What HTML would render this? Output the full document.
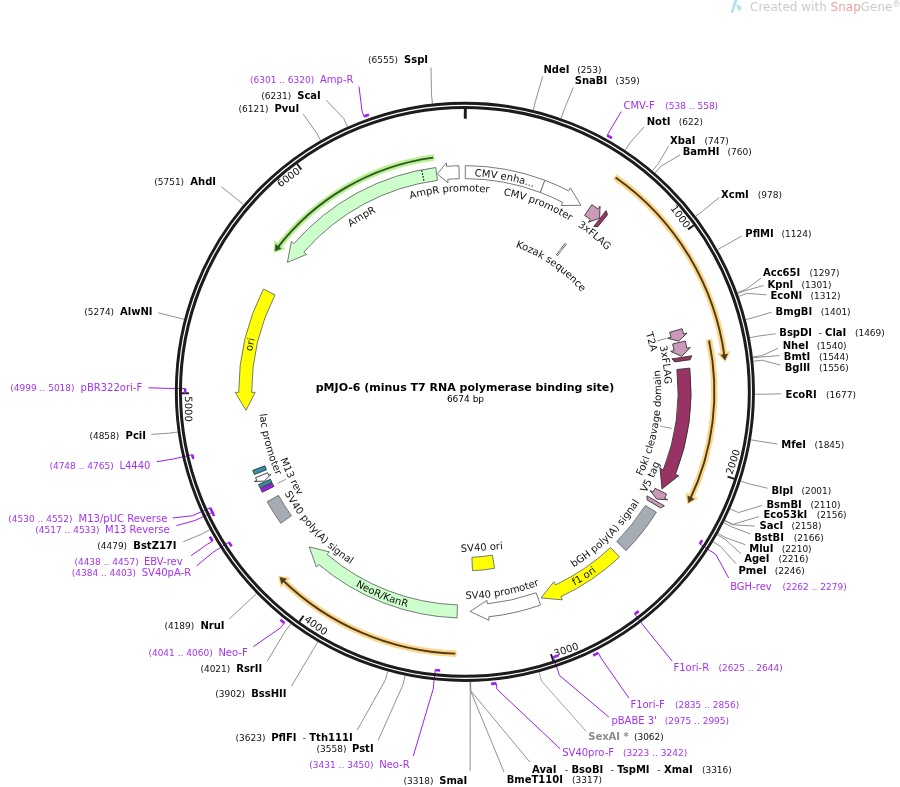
<!DOCTYPE html>
<html><head><meta charset="utf-8"><title>pMJO-6 map</title>
<style>
html,body{margin:0;padding:0;background:#fff;width:900px;height:787px;overflow:hidden}
svg{display:block;will-change:transform}
.n{font-size:10px;font-weight:bold;fill:#000}
.g{font-size:10px;font-weight:bold;fill:#8c8c8c}
.d{font-size:9px;fill:#111}
.p{font-size:10px;fill:#a333f0}
.pd{font-size:9px;fill:#a333f0}
</style></head>
<body>
<svg width="900" height="787" viewBox="0 0 900 787">
<defs><path id="tp1" d="M357.38,204.74 A215.8,215.8 0 0 1 632.67,256.12"/><path id="tp2" d="M399.1,202.35 A200.6,200.6 0 0 1 641.63,296.94"/><path id="tp3" d="M323.43,249.78 A200.5,200.5 0 0 1 582.84,229.71"/><path id="tp4" d="M275.34,326.53 A200.5,200.5 0 0 1 499.46,194.35"/><path id="tp5" d="M273.69,493.61 A216.6,216.6 0 0 1 334.21,219.12"/><path id="tp6" d="M435.41,612.69 A222.8,222.8 0 0 0 678.31,455.85"/><path id="tp7" d="M266.95,494.11 A222.8,222.8 0 0 0 534.61,603.46"/><path id="tp8" d="M361.93,571.43 A207,207 0 0 0 625.96,521.89"/><path id="tp9" d="M258.09,400.71 A207,207 0 0 0 440.98,597.46"/><path id="tp10" d="M480.24,597.78 A206.5,206.5 0 0 0 670.67,409.23"/><path id="tp11" d="M591.08,542.1 A196.2,196.2 0 0 0 633.19,290.99"/><path id="tp12" d="M552.33,580.03 A207.5,207.5 0 0 0 664.53,335.24"/><path id="tp13" d="M572.58,235.31 A190,190 0 0 1 636.49,473.45"/><path id="tp14" d="M598.36,242.89 A200,200 0 0 1 633.07,500.1"/><path id="tp15" d="M462.07,191.37 A200.5,200.5 0 0 1 662.42,357.38"/><path id="tp16" d="M448.6,239.22 A153.5,153.5 0 0 1 613.04,351.64"/><path id="tp17" d="M278.41,303.17 A206.5,206.5 0 0 0 347.87,561.99"/><path id="tp18" d="M274.64,342.71 A196.5,196.5 0 0 0 386.32,571.95"/></defs>
<g font-family="'DejaVu Sans', sans-serif">
<path d="M614.63,176.85 A262,262 0 0 1 724.02,353.08" fill="none" stroke="#ffd589" stroke-width="6.4"/>
<path d="M730.17,351.64 L725.17,361.8 L717.71,353.53 Z" fill="#ffd589" stroke="#ffd589" stroke-width="1" stroke-linejoin="round"/>
<path d="M615.61,177.54 A262,262 0 0 1 724.64,357.53" fill="none" stroke="#4a3b1c" stroke-width="1.9"/>
<path d="M727.6,354.08 L724.96,360.01 L720.87,355.05 Z" fill="#4a3b1c" stroke="#4a3b1c" stroke-width="0.6" stroke-linejoin="round"/>
<path d="M708.79,339.25 A249.5,249.5 0 0 1 691.54,496.17" fill="none" stroke="#ffd589" stroke-width="6.4"/>
<path d="M697.48,498.34 L687.72,504.1 L686.02,493.1 Z" fill="#ffd589" stroke="#ffd589" stroke-width="1" stroke-linejoin="round"/>
<path d="M709.04,340.43 A249.5,249.5 0 0 1 689.62,500.24" fill="none" stroke="#4a3b1c" stroke-width="1.9"/>
<path d="M693.99,498.97 L688.53,502.49 L687.83,496.09 Z" fill="#4a3b1c" stroke="#4a3b1c" stroke-width="0.6" stroke-linejoin="round"/>
<path d="M456.48,653.71 A262,262 0 0 1 285.04,582.36" fill="none" stroke="#ffd589" stroke-width="6.4"/>
<path d="M281.08,587.29 L278.74,576.21 L289.72,578.11 Z" fill="#ffd589" stroke="#ffd589" stroke-width="1" stroke-linejoin="round"/>
<path d="M455.28,653.67 A262,262 0 0 1 281.79,579.24" fill="none" stroke="#4a3b1c" stroke-width="1.9"/>
<path d="M281.6,583.78 L280.01,577.49 L286.3,578.87 Z" fill="#4a3b1c" stroke="#4a3b1c" stroke-width="0.6" stroke-linejoin="round"/>
<path d="M434.36,157.43 A236.4,236.4 0 0 0 279.37,245.35" fill="none" stroke="#b6f28e" stroke-width="6.4"/>
<path d="M274.74,241.04 L274.04,252.35 L284.62,248.87 Z" fill="#b6f28e" stroke="#b6f28e" stroke-width="1" stroke-linejoin="round"/>
<path d="M433.17,157.59 A236.4,236.4 0 0 0 276.61,248.91" fill="none" stroke="#35522a" stroke-width="1.9"/>
<path d="M275.76,244.44 L275.11,250.9 L281.12,248.62 Z" fill="#35522a" stroke="#35522a" stroke-width="0.6" stroke-linejoin="round"/>
<path d="M465.33,165.65 A226.2,226.2 0 0 1 544.9,180.27 L540.31,192.43 A213.2,213.2 0 0 0 465.3,178.65 Z" fill="#ffffff" stroke="#6a6a6a" stroke-width="0.9" stroke-linejoin="miter"/>
<path d="M544.9,180.27 A226.2,226.2 0 0 1 568.7,190.87 L570.31,187.76 L580.93,205.29 L561.13,205.53 L562.73,202.42 A213.2,213.2 0 0 0 540.31,192.43 Z" fill="#ffffff" stroke="#6a6a6a" stroke-width="0.9" stroke-linejoin="miter"/>
<path d="M458.94,165.73 A226.2,226.2 0 0 0 446.68,166.39 L446.4,162.9 L437.26,173.9 L448.01,182.83 L447.73,179.34 A213.2,213.2 0 0 1 459.28,178.72 Z" fill="#ffffff" stroke="#6a6a6a" stroke-width="0.9" stroke-linejoin="miter"/>
<path d="M435.81,167.53 A226.2,226.2 0 0 0 294.02,243.63 L291.38,241.34 L287.41,262.36 L306.49,254.45 L303.84,252.15 A213.2,213.2 0 0 1 437.48,180.42 Z" fill="#ccffcc" stroke="#6a6a6a" stroke-width="0.9" stroke-linejoin="miter"/>
<path d="M421.82,170.3 L424.11,182.08" stroke="#111" stroke-width="1.2" stroke-dasharray="1.6,1.4"/>
<path d="M263.45,288.98 A226.2,226.2 0 0 0 238.7,392.38 L235.2,392.39 L245.98,410.34 L255.2,392.34 L251.7,392.35 A213.2,213.2 0 0 1 275.02,294.89 Z" fill="#ffff00" stroke="#6a6a6a" stroke-width="0.9" stroke-linejoin="miter"/>
<path d="M457.02,617.91 A226.2,226.2 0 0 1 318.69,564.44 L316.42,567.11 L309.29,546.95 L329.35,551.85 L327.09,554.52 A213.2,213.2 0 0 0 457.48,604.92 Z" fill="#ccffcc" stroke="#6a6a6a" stroke-width="0.9" stroke-linejoin="miter"/>
<path d="M540.51,605.04 A226.2,226.2 0 0 1 488.71,616.79 L489.08,620.27 L470.07,611.49 L486.98,600.38 L487.34,603.87 A213.2,213.2 0 0 0 536.16,592.79 Z" fill="#ffffff" stroke="#6a6a6a" stroke-width="0.9" stroke-linejoin="miter"/>
<path d="M619.45,557.02 A226.2,226.2 0 0 1 560.88,596.68 L562.36,599.85 L541.06,597.93 L553.88,581.74 L555.36,584.91 A213.2,213.2 0 0 0 610.57,547.52 Z" fill="#ffff00" stroke="#6a6a6a" stroke-width="0.9" stroke-linejoin="miter"/>
<path d="M656.36,512.31 A226.2,226.2 0 0 1 626.01,550.63 L616.75,541.5 A213.2,213.2 0 0 0 645.36,505.38 Z" fill="#a6acb5" stroke="#6a6a6a" stroke-width="0.9" stroke-linejoin="miter"/>
<path d="M280.79,523.27 A226.2,226.2 0 0 1 267.15,501.68 L278.52,495.36 A213.2,213.2 0 0 0 291.37,515.72 Z" fill="#a6acb5" stroke="#6a6a6a" stroke-width="0.9" stroke-linejoin="miter"/>
<path d="M591.86,204.64 A226.2,226.2 0 0 1 597.98,208.94 L600.04,206.11 L599.59,218.28 L588.27,222.28 L590.33,219.45 A213.2,213.2 0 0 0 584.57,215.4 Z" fill="#cc99bb" stroke="#333" stroke-width="0.9" stroke-linejoin="miter"/>
<path d="M606.07,210.65 L607.57,214.64 L597.78,226.79 L593.77,226.42 Z" fill="#993366" stroke="#333" stroke-width="0.9" stroke-linejoin="miter"/>
<path d="M682.11,328.71 A226.2,226.2 0 0 1 683.58,334.03 L686.97,333.13 L678.66,341.12 L667.63,338.25 L671.02,337.35 A213.2,213.2 0 0 0 669.63,332.34 Z" fill="#cc99bb" stroke="#333" stroke-width="0.9" stroke-linejoin="miter"/>
<path d="M685.33,341.07 A226.2,226.2 0 0 1 686.85,348.18 L690.28,347.51 L681.71,356.33 L670.66,351.37 L674.09,350.69 A213.2,213.2 0 0 0 672.66,343.99 Z" fill="#cc99bb" stroke="#333" stroke-width="0.9" stroke-linejoin="miter"/>
<path d="M691.75,355.78 L690.12,359.72 L674.68,361.93 L672,358.92 Z" fill="#993366" stroke="#333" stroke-width="0.9" stroke-linejoin="miter"/>
<path d="M689.85,368.15 A226.2,226.2 0 0 1 675.48,474.45 L678.74,475.73 L661.96,488.99 L660.12,468.42 L663.38,469.7 A213.2,213.2 0 0 0 676.93,369.51 Z" fill="#993366" stroke="#333" stroke-width="0.9" stroke-linejoin="miter"/>
<path d="M666.64,494.15 A226.2,226.2 0 0 1 664.56,498.17 L667.65,499.81 L656.66,499.06 L649.99,490.41 L653.08,492.06 A213.2,213.2 0 0 0 655.05,488.27 Z" fill="#cc99bb" stroke="#333" stroke-width="0.9" stroke-linejoin="miter"/>
<path d="M664.33,505.82 L660.59,507.88 L647.17,499.92 L646.96,495.9 Z" fill="#cc99bb" stroke="#333" stroke-width="0.9" stroke-linejoin="miter"/>
<path d="M254.35,474.54 A226.2,226.2 0 0 1 252.76,470.36 L264.95,465.85 A213.2,213.2 0 0 0 266.46,469.79 Z" fill="#3191ab" stroke="#333" stroke-width="0.9" stroke-linejoin="miter"/>
<path d="M255.62,477.7 A226.2,226.2 0 0 0 256.78,480.47 L254.48,481.44 L264.16,481.13 L271.04,474.39 L268.74,475.37 A213.2,213.2 0 0 1 267.65,472.77 Z" fill="#ffffff" stroke="#333" stroke-width="0.9" stroke-linejoin="miter"/>
<path d="M260.08,487.84 A226.2,226.2 0 0 1 258.57,484.55 L270.42,479.22 A213.2,213.2 0 0 0 271.85,482.32 Z" fill="#3191ab" stroke="#333" stroke-width="0.9" stroke-linejoin="miter"/>
<path d="M262.2,492.25 A226.2,226.2 0 0 1 260.44,488.61 L272.19,483.05 A213.2,213.2 0 0 0 273.85,486.48 Z" fill="#9b1ff0" stroke="#333" stroke-width="0.9" stroke-linejoin="miter"/>
<path d="M494.59,568.37 A179,179 0 0 1 472.48,570.69 L471.91,557.3 A165.6,165.6 0 0 0 492.37,555.16 Z" fill="#ffff00" stroke="#6a6a6a" stroke-width="0.9" stroke-linejoin="miter"/>
<path d="M465.3,108.65 L465.29,118.85" stroke="#1c1c1c" stroke-width="2.9"/>
<path d="M693.84,225.15 L688.02,229.39" stroke="#1c1c1c" stroke-width="1.9"/>
<text x="685.22" y="228.95" font-size="10" fill="#111" font-weight="normal" text-anchor="end" transform="rotate(53.94 685.22 228.95)">1000</text>
<path d="M734.42,478.81 L727.57,476.59" stroke="#1c1c1c" stroke-width="1.9"/>
<text x="732.28" y="474.96" font-size="10" fill="#111" font-weight="normal" text-anchor="start" transform="rotate(-72.12 732.28 474.96)">2000</text>
<path d="M553.25,660.92 L551,654.08" stroke="#1c1c1c" stroke-width="1.9"/>
<text x="555.1" y="656.92" font-size="10" fill="#111" font-weight="normal" text-anchor="start" transform="rotate(-18.18 555.1 656.92)">3000</text>
<path d="M299.39,621.65 L303.6,615.81" stroke="#1c1c1c" stroke-width="1.9"/>
<text x="303.7" y="620.79" font-size="10" fill="#111" font-weight="normal" text-anchor="start" transform="rotate(35.76 303.7 620.79)">4000</text>
<path d="M181.7,393.32 L188.9,393.28" stroke="#1c1c1c" stroke-width="1.9"/>
<text x="184.94" y="396.3" font-size="10" fill="#111" font-weight="normal" text-anchor="start" transform="rotate(89.7 184.94 396.3)">5000</text>
<path d="M297.02,163.78 L301.29,169.57" stroke="#1c1c1c" stroke-width="1.9"/>
<text x="300.87" y="172.38" font-size="10" fill="#111" font-weight="normal" text-anchor="end" transform="rotate(323.64 300.87 172.38)">6000</text>
<path d="M533.32,110.04 L535.45,101.29 L542.7,76.3" fill="none" stroke="#858585" stroke-width="0.9"/>
<path d="M561.06,118.26 L564.04,109.77 L573.3,87.5" fill="none" stroke="#858585" stroke-width="0.9"/>
<path d="M621.3,111.5 L609.95,130.39 L607.14,135.46" fill="none" stroke="#9b1ff0" stroke-width="1.0"/>
<path d="M607.14,135.46 A293.2,293.2 0 0 1 611.94,138.18" fill="none" stroke="#9b1ff0" stroke-width="2.6"/>
<path d="M625.18,150.17 L630.15,142.67 L644,127" fill="none" stroke="#858585" stroke-width="0.9"/>
<path d="M652.44,170.66 L658.26,163.79 L668.5,146.2" fill="none" stroke="#858585" stroke-width="0.9"/>
<path d="M655.14,172.97 L661.04,166.17 L680,155" fill="none" stroke="#858585" stroke-width="0.9"/>
<path d="M695.75,216.33 L702.92,210.88 L719.2,197.5" fill="none" stroke="#858585" stroke-width="0.9"/>
<path d="M717.62,249.62 L725.47,245.2 L741.8,236" fill="none" stroke="#858585" stroke-width="0.9"/>
<path d="M737.34,292.48 L745.8,289.39 L761.2,278" fill="none" stroke="#858585" stroke-width="0.9"/>
<path d="M737.72,293.51 L746.18,290.45 L763.5,285.5" fill="none" stroke="#858585" stroke-width="0.9"/>
<path d="M738.72,296.34 L747.22,293.37 L766.5,294.8" fill="none" stroke="#858585" stroke-width="0.9"/>
<path d="M745.75,319.59 L754.47,317.34 L771.6,312.2" fill="none" stroke="#858585" stroke-width="0.9"/>
<path d="M749.8,337.7 L758.64,336.02 L775.6,333.8" fill="none" stroke="#858585" stroke-width="0.9"/>
<path d="M752.78,356.85 L761.71,355.77 L778.2,348.2" fill="none" stroke="#858585" stroke-width="0.9"/>
<path d="M752.91,357.94 L761.85,356.88 L779.3,355.6" fill="none" stroke="#858585" stroke-width="0.9"/>
<path d="M753.27,361.19 L762.22,360.24 L780.4,365.1" fill="none" stroke="#858585" stroke-width="0.9"/>
<path d="M754.89,394.17 L763.89,394.24 L781.1,393.8" fill="none" stroke="#858585" stroke-width="0.9"/>
<path d="M750.91,439.82 L759.78,441.3 L777.3,444" fill="none" stroke="#858585" stroke-width="0.9"/>
<path d="M740.81,481.15 L749.37,483.92 L767.5,488.2" fill="none" stroke="#858585" stroke-width="0.9"/>
<path d="M730.21,508.95 L738.44,512.58 L762.2,505.4" fill="none" stroke="#858585" stroke-width="0.9"/>
<path d="M724.89,520.32 L732.96,524.31 L759,516.6" fill="none" stroke="#858585" stroke-width="0.9"/>
<path d="M724.65,520.81 L732.71,524.81 L754.9,526" fill="none" stroke="#858585" stroke-width="0.9"/>
<path d="M723.67,522.76 L731.7,526.83 L750.3,534" fill="none" stroke="#858585" stroke-width="0.9"/>
<path d="M718.03,533.37 L725.88,537.76 L745.3,544.7" fill="none" stroke="#858585" stroke-width="0.9"/>
<path d="M717.22,534.8 L725.05,539.23 L741.2,553.9" fill="none" stroke="#858585" stroke-width="0.9"/>
<path d="M713.08,541.86 L720.79,546.52 L735.9,563.7" fill="none" stroke="#858585" stroke-width="0.9"/>
<path d="M728.6,577.9 L715.86,554.39 L699.74,543.96" fill="none" stroke="#9b1ff0" stroke-width="1.0"/>
<path d="M702.15,540.18 A279.8,279.8 0 0 1 699.74,543.96" fill="none" stroke="#9b1ff0" stroke-width="2.6"/>
<path d="M672.3,661.2 L646.43,629.44 L634.77,614.18" fill="none" stroke="#9b1ff0" stroke-width="1.0"/>
<path d="M638.72,611.11 A279.8,279.8 0 0 1 634.77,614.18" fill="none" stroke="#9b1ff0" stroke-width="2.6"/>
<path d="M629,698.2 L601.01,658.08 L598.37,652.91" fill="none" stroke="#9b1ff0" stroke-width="1.0"/>
<path d="M598.37,652.91 A293.2,293.2 0 0 1 593.18,655.5" fill="none" stroke="#9b1ff0" stroke-width="2.6"/>
<path d="M608.8,717 L559.52,675.49 L553.44,657.27" fill="none" stroke="#9b1ff0" stroke-width="1.0"/>
<path d="M558.42,655.56 A279.8,279.8 0 0 1 553.44,657.27" fill="none" stroke="#9b1ff0" stroke-width="2.6"/>
<path d="M539.14,672.19 L541.45,680.89 L586.2,731.4" fill="none" stroke="#9a9a9a" stroke-width="0.9"/>
<path d="M560.2,748.8 L496.93,689.13 L496.31,683.36" fill="none" stroke="#9b1ff0" stroke-width="1.0"/>
<path d="M496.31,683.36 A293.2,293.2 0 0 1 491.09,683.88" fill="none" stroke="#9b1ff0" stroke-width="2.6"/>
<path d="M470.63,681.79 L470.81,690.79 L529.9,762.1" fill="none" stroke="#858585" stroke-width="0.9"/>
<path d="M470.36,681.8 L470.53,690.8 L504,772" fill="none" stroke="#858585" stroke-width="0.9"/>
<path d="M470.09,681.8 L470.25,690.8 L470.1,770.7" fill="none" stroke="#858585" stroke-width="0.9"/>
<path d="M413.3,756 L433.15,689.16 L435.19,670.07" fill="none" stroke="#9b1ff0" stroke-width="1.0"/>
<path d="M440.17,670.56 A279.8,279.8 0 0 1 435.19,670.07" fill="none" stroke="#9b1ff0" stroke-width="2.6"/>
<path d="M405,675.6 L403.14,684.4 L378.1,740.5" fill="none" stroke="#858585" stroke-width="0.9"/>
<path d="M387.76,671.4 L385.36,680.08 L357.3,729.9" fill="none" stroke="#858585" stroke-width="0.9"/>
<path d="M317.82,641.78 L313.25,649.54 L291.5,686.1" fill="none" stroke="#858585" stroke-width="0.9"/>
<path d="M290.8,623.77 L285.39,630.97 L267.2,661.3" fill="none" stroke="#858585" stroke-width="0.9"/>
<path d="M253.3,646.7 L280.92,627.55 L284.49,622.98" fill="none" stroke="#9b1ff0" stroke-width="1.0"/>
<path d="M284.49,622.98 A293.2,293.2 0 0 1 280.39,619.71" fill="none" stroke="#9b1ff0" stroke-width="2.6"/>
<path d="M256.44,593.46 L249.97,599.71 L229.3,618.9" fill="none" stroke="#858585" stroke-width="0.9"/>
<path d="M196.7,565.8 L212.72,552.5 L228.92,542.18" fill="none" stroke="#9b1ff0" stroke-width="1.0"/>
<path d="M231.64,546.38 A279.8,279.8 0 0 1 228.92,542.18" fill="none" stroke="#9b1ff0" stroke-width="2.6"/>
<path d="M191.1,555.6 L207.57,544.1 L212.56,541.15" fill="none" stroke="#9b1ff0" stroke-width="1.0"/>
<path d="M212.56,541.15 A293.2,293.2 0 0 1 209.93,536.61" fill="none" stroke="#9b1ff0" stroke-width="2.6"/>
<path d="M209.8,529.78 L201.88,534.06 L183.3,541.7" fill="none" stroke="#858585" stroke-width="0.9"/>
<path d="M176.4,525.6 L195,520.51 L212.33,512.25" fill="none" stroke="#9b1ff0" stroke-width="1.0"/>
<path d="M214.17,516.04 A279.8,279.8 0 0 1 212.33,512.25" fill="none" stroke="#9b1ff0" stroke-width="2.6"/>
<path d="M172.8,518 L192.74,515.66 L210.22,507.71" fill="none" stroke="#9b1ff0" stroke-width="1.0"/>
<path d="M212.67,512.96 A279.8,279.8 0 0 1 210.22,507.71" fill="none" stroke="#9b1ff0" stroke-width="2.6"/>
<path d="M156.9,461.7 L173.53,458.97 L192.24,454.66" fill="none" stroke="#9b1ff0" stroke-width="1.0"/>
<path d="M193.28,459.02 A279.8,279.8 0 0 1 192.24,454.66" fill="none" stroke="#9b1ff0" stroke-width="2.6"/>
<path d="M177.69,431.99 L168.78,433.24 L151.4,434.4" fill="none" stroke="#858585" stroke-width="0.9"/>
<path d="M148.6,387.8 L165.92,388.33 L185.12,388.56" fill="none" stroke="#9b1ff0" stroke-width="1.0"/>
<path d="M185.11,393.56 A279.8,279.8 0 0 1 185.12,388.56" fill="none" stroke="#9b1ff0" stroke-width="2.6"/>
<path d="M184.12,319.32 L175.4,317.07 L158.3,312.8" fill="none" stroke="#858585" stroke-width="0.9"/>
<path d="M243.44,204.62 L236.57,198.81 L221.4,186.7" fill="none" stroke="#858585" stroke-width="0.9"/>
<path d="M320.65,140.27 L316.17,132.46 L303.3,114.2" fill="none" stroke="#858585" stroke-width="0.9"/>
<path d="M347.43,126.71 L343.78,118.48 L326.3,100.3" fill="none" stroke="#858585" stroke-width="0.9"/>
<path d="M359,86.6 L362.05,111.1 L364.04,116.54" fill="none" stroke="#9b1ff0" stroke-width="1.0"/>
<path d="M364.04,116.54 A293.2,293.2 0 0 1 368.98,114.78" fill="none" stroke="#9b1ff0" stroke-width="2.6"/>
<path d="M432.48,103.67 L431.47,94.72 L431,67.5" fill="none" stroke="#858585" stroke-width="0.9"/>
<circle cx="464.9" cy="391.85" r="288.6" fill="none" stroke="#1c1c1c" stroke-width="2.9"/>
<circle cx="464.9" cy="391.85" r="284.45" fill="none" stroke="#1c1c1c" stroke-width="3.0"/>
<text font-size="10" fill="#111" font-weight="normal" text-anchor="middle"><textPath href="#tp1" startOffset="50%">CMV enha...</textPath></text>
<text font-size="10" fill="#111" font-weight="normal" text-anchor="middle"><textPath href="#tp2" startOffset="50%">CMV promoter</textPath></text>
<text font-size="10" fill="#111" font-weight="normal" text-anchor="middle"><textPath href="#tp3" startOffset="50%">AmpR promoter</textPath></text>
<text font-size="10" fill="#111" font-weight="normal" text-anchor="middle"><textPath href="#tp4" startOffset="50%">AmpR</textPath></text>
<text font-size="10" fill="#111" font-weight="normal" text-anchor="middle"><textPath href="#tp5" startOffset="50%">ori</textPath></text>
<text font-size="10" fill="#111" font-weight="normal" text-anchor="middle"><textPath href="#tp6" startOffset="50%">f1 ori</textPath></text>
<text font-size="10" fill="#111" font-weight="normal" text-anchor="middle"><textPath href="#tp7" startOffset="50%">NeoR/KanR</textPath></text>
<text font-size="10" fill="#111" font-weight="normal" text-anchor="middle"><textPath href="#tp8" startOffset="50%">SV40 promoter</textPath></text>
<text font-size="10" fill="#111" font-weight="normal" text-anchor="middle"><textPath href="#tp9" startOffset="50%">SV40 poly(A) signal</textPath></text>
<text font-size="10" fill="#111" font-weight="normal" text-anchor="middle"><textPath href="#tp10" startOffset="50%">bGH poly(A) signal</textPath></text>
<text font-size="10" fill="#111" font-weight="normal" text-anchor="middle"><textPath href="#tp11" startOffset="50%">FokI cleavage domain</textPath></text>
<text font-size="10" fill="#111" font-weight="normal" text-anchor="middle"><textPath href="#tp12" startOffset="50%">V5 tag</textPath></text>
<text font-size="10" fill="#111" font-weight="normal" text-anchor="middle"><textPath href="#tp13" startOffset="50%">T2A</textPath></text>
<text font-size="10" fill="#111" font-weight="normal" text-anchor="middle"><textPath href="#tp14" startOffset="50%">3xFLAG</textPath></text>
<text font-size="10" fill="#111" font-weight="normal" text-anchor="middle"><textPath href="#tp15" startOffset="50%">3xFLAG</textPath></text>
<text font-size="10" fill="#111" font-weight="normal" text-anchor="middle"><textPath href="#tp16" startOffset="50%">Kozak sequence</textPath></text>
<text font-size="10" fill="#111" font-weight="normal" text-anchor="middle"><textPath href="#tp17" startOffset="50%">lac promoter</textPath></text>
<text font-size="10" fill="#111" font-weight="normal" text-anchor="middle"><textPath href="#tp18" startOffset="50%">M13 rev</textPath></text>
<text x="461" y="552" font-size="10" fill="#111" font-weight="normal" text-anchor="start" transform="rotate(-4 461 552)">SV40 ori</text>
<path d="M657.1,341 L666.4,338.3" stroke="#8a8a8a" stroke-width="0.9"/>
<path d="M660.2,426.2 L672,428.4" stroke="#8a8a8a" stroke-width="0.9"/>
<path d="M277.3,483.5 L285.9,479.3" stroke="#8a8a8a" stroke-width="0.9"/>
<path d="M556.9,255.2 L566.2,243" stroke="#222" stroke-width="2.4" stroke-dasharray="0.8,0.6"/>
<path d="M556.9,255.2 L566.2,243" stroke="#fff" stroke-width="0.6"/>
<text x="543.5" y="73.1" class="n">NdeI</text>
<text x="577.3" y="73.1" class="d">(253)</text>
<text x="574.7" y="84.3" class="n">SnaBI</text>
<text x="615.5" y="84.3" class="d">(359)</text>
<text x="623.5" y="108.9" class="p">CMV-F</text>
<text x="665.3" y="108.9" class="pd">(538 .. 558)</text>
<text x="646.7" y="125.1" class="n">NotI</text>
<text x="678.7" y="125.1" class="d">(622)</text>
<text x="670.1" y="143.8" class="n">XbaI</text>
<text x="704.5" y="143.8" class="d">(747)</text>
<text x="682.7" y="155" class="n">BamHI</text>
<text x="727.5" y="155" class="d">(760)</text>
<text x="721" y="198" class="n">XcmI</text>
<text x="757.7" y="198" class="d">(978)</text>
<text x="745.3" y="236.7" class="n">PflMI</text>
<text x="781.5" y="236.7" class="d">(1124)</text>
<text x="763" y="276.4" class="n">Acc65I</text>
<text x="809.5" y="276.4" class="d">(1297)</text>
<text x="767.5" y="287.8" class="n">KpnI</text>
<text x="801.5" y="287.8" class="d">(1301)</text>
<text x="770.5" y="298.5" class="n">EcoNI</text>
<text x="810.6" y="298.5" class="d">(1312)</text>
<text x="775.6" y="314.9" class="n">BmgBI</text>
<text x="820.7" y="314.9" class="d">(1401)</text>
<text x="779.3" y="335.6" class="n">BspDI</text>
<text x="818.8" y="335.6" class="d">-</text>
<text x="825.1" y="335.6" class="n">ClaI</text>
<text x="854.9" y="335.6" class="d">(1469)</text>
<text x="782.7" y="349.2" class="n">NheI</text>
<text x="816.7" y="349.2" class="d">(1540)</text>
<text x="783.8" y="360" class="n">BmtI</text>
<text x="818.9" y="360" class="d">(1544)</text>
<text x="784.7" y="371" class="n">BglII</text>
<text x="818.9" y="371" class="d">(1556)</text>
<text x="785.6" y="397.8" class="n">EcoRI</text>
<text x="826" y="397.8" class="d">(1677)</text>
<text x="781.2" y="447.9" class="n">MfeI</text>
<text x="814.4" y="447.9" class="d">(1845)</text>
<text x="771.4" y="493.7" class="n">BlpI</text>
<text x="801.4" y="493.7" class="d">(2001)</text>
<text x="766.4" y="507.6" class="n">BsmBI</text>
<text x="810.5" y="507.6" class="d">(2110)</text>
<text x="763.4" y="518.4" class="n">Eco53kI</text>
<text x="816.7" y="518.4" class="d">(2156)</text>
<text x="759.5" y="529.4" class="n">SacI</text>
<text x="791.5" y="529.4" class="d">(2158)</text>
<text x="754.2" y="540.6" class="n">BstBI</text>
<text x="793.8" y="540.6" class="d">(2166)</text>
<text x="749.2" y="551.6" class="n">MluI</text>
<text x="781.7" y="551.6" class="d">(2210)</text>
<text x="744.2" y="562.3" class="n">AgeI</text>
<text x="778.5" y="562.3" class="d">(2216)</text>
<text x="738.4" y="573.8" class="n">PmeI</text>
<text x="774.8" y="573.8" class="d">(2246)</text>
<text x="730.2" y="589.8" class="p">BGH-rev</text>
<text x="782.4" y="589.8" class="pd">(2262 .. 2279)</text>
<text x="673.5" y="670.8" class="p">F1ori-R</text>
<text x="718.5" y="670.8" class="pd">(2625 .. 2644)</text>
<text x="630.4" y="708.3" class="p">F1ori-F</text>
<text x="674.9" y="708.3" class="pd">(2835 .. 2856)</text>
<text x="611.4" y="724.2" class="p">pBABE 3'</text>
<text x="664.8" y="724.2" class="pd">(2975 .. 2995)</text>
<text x="588.2" y="740.1" class="g">SexAI *</text>
<text x="633.9" y="740.1" class="d">(3062)</text>
<text x="562.2" y="756" class="p">SV40pro-F</text>
<text x="622.9" y="756" class="pd">(3223 .. 3242)</text>
<text x="532" y="772.5" class="n">AvaI</text>
<text x="564.8" y="772.5" class="d">-</text>
<text x="571.5" y="772.5" class="n">BsoBI</text>
<text x="610.7" y="772.5" class="d">-</text>
<text x="617.3" y="772.5" class="n">TspMI</text>
<text x="657.3" y="772.5" class="d">-</text>
<text x="664" y="772.5" class="n">XmaI</text>
<text x="701.9" y="772.5" class="d">(3316)</text>
<text x="506.7" y="782.9" class="n">BmeT110I</text>
<text x="572" y="782.9" class="d">(3317)</text>
<text x="403.5" y="783.7" class="d">(3318)</text>
<text x="439.2" y="783.7" class="n">SmaI</text>
<text x="309.3" y="767.9" class="pd">(3431 .. 3450)</text>
<text x="379.2" y="767.9" class="p">Neo-R</text>
<text x="316.5" y="751.9" class="d">(3558)</text>
<text x="352" y="751.9" class="n">PstI</text>
<text x="235.5" y="740.7" class="d">(3623)</text>
<text x="271.2" y="740.7" class="n">PflFI</text>
<text x="302.7" y="740.7" class="d">-</text>
<text x="309.3" y="740.7" class="n">Tth111I</text>
<text x="215.2" y="696.7" class="d">(3902)</text>
<text x="251.2" y="696.7" class="n">BssHII</text>
<text x="200.4" y="672.1" class="d">(4021)</text>
<text x="236.2" y="672.1" class="n">RsrII</text>
<text x="148.4" y="656.1" class="pd">(4041 .. 4060)</text>
<text x="218.4" y="656.1" class="p">Neo-F</text>
<text x="164.4" y="628.9" class="d">(4189)</text>
<text x="200.4" y="628.9" class="n">NruI</text>
<text x="71.7" y="576.3" class="pd">(4384 .. 4403)</text>
<text x="141.7" y="576.3" class="p">SV40pA-R</text>
<text x="74.4" y="565.1" class="pd">(4438 .. 4457)</text>
<text x="143.9" y="565.1" class="p">EBV-rev</text>
<text x="97.2" y="549.3" class="d">(4479)</text>
<text x="133.3" y="549.3" class="n">BstZ17I</text>
<text x="35.3" y="533.2" class="pd">(4517 .. 4533)</text>
<text x="105" y="533.2" class="p">M13 Reverse</text>
<text x="8.3" y="522.4" class="pd">(4530 .. 4552)</text>
<text x="78.6" y="522.4" class="p">M13/pUC Reverse</text>
<text x="49.4" y="468.5" class="pd">(4748 .. 4765)</text>
<text x="119.4" y="468.5" class="p">L4440</text>
<text x="89.4" y="438.6" class="d">(4858)</text>
<text x="125.6" y="438.6" class="n">PciI</text>
<text x="10.3" y="391.4" class="pd">(4999 .. 5018)</text>
<text x="80.6" y="391.4" class="p">pBR322ori-F</text>
<text x="84.2" y="315" class="d">(5274)</text>
<text x="120" y="315" class="n">AlwNI</text>
<text x="154.2" y="184.9" class="d">(5751)</text>
<text x="190.3" y="184.9" class="n">AhdI</text>
<text x="238.6" y="111.5" class="d">(6121)</text>
<text x="274.5" y="111.5" class="n">PvuI</text>
<text x="261.3" y="98.8" class="d">(6231)</text>
<text x="297.2" y="98.8" class="n">ScaI</text>
<text x="250" y="83" class="pd">(6301 .. 6320)</text>
<text x="320" y="83" class="p">Amp-R</text>
<text x="368.1" y="62.6" class="d">(6555)</text>
<text x="404" y="62.6" class="n">SspI</text>
<text x="465" y="390.5" text-anchor="middle" font-weight="bold" font-size="11">pMJO-6 (minus T7 RNA polymerase binding site)</text>
<text x="465.5" y="402" text-anchor="middle" font-size="9">6674 bp</text>
</g>
<text x="750" y="11" font-family="'DejaVu Sans', sans-serif" font-size="12" fill="#cbcbcb">Created with <tspan fill="#eaa3a3">Snap</tspan>Gene<tspan font-size="8" dy="-4.5">®</tspan></text>
<path d="M734.3,0 L737.7,0 L733.3,12.6 C732.7,13.3 731.1,13.2 730.6,12.4 Z" fill="#b8e1f2"/><path d="M736.0,4.2 L739.6,5.6 C741.7,6.3 742.1,9.1 740.7,10.3 C739.3,11.3 737.2,10.6 737.5,8.4 Z" fill="#b8e1f2"/>
</svg>
</body></html>
